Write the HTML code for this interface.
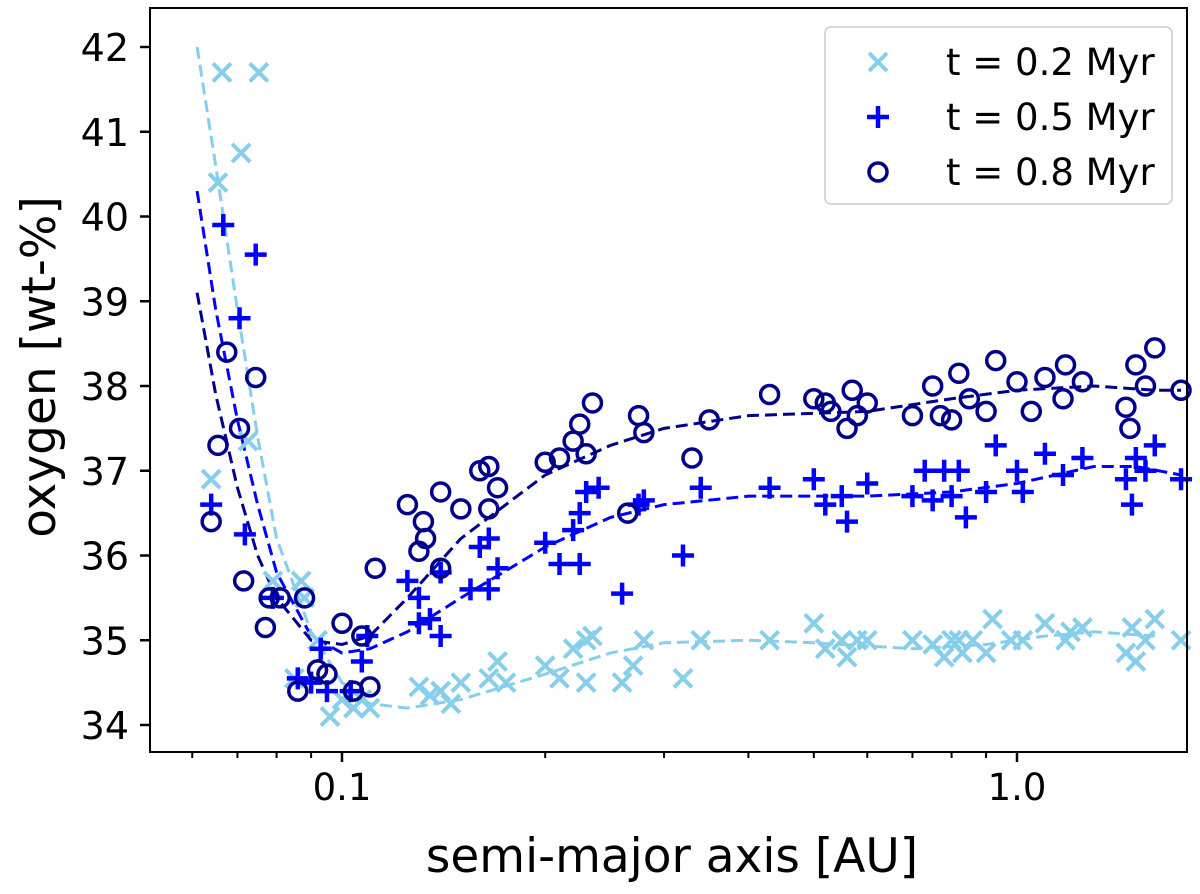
<!DOCTYPE html>
<html><head><meta charset="utf-8"><style>
body{margin:0;background:#fff;}
svg text{font-family:"DejaVu Sans","Liberation Sans",sans-serif;fill:#000;}
</style></head><body>
<svg id="chart" width="1200" height="889" xmlns="http://www.w3.org/2000/svg">
<rect x="0" y="0" width="1200" height="889" fill="#fff"/>
<g id="plot"></g>
<g id="axes"></g>
</svg>
<script>
const yTicks=[34,35,36,37,38,39,40,41,42];
const xTickVals=[0.1,1.0];
const xTickLabels=["0.1","1.0"];
const xMinor=[0.06,0.07,0.08,0.09,0.2,0.3,0.4,0.5,0.6,0.7,0.8,0.9];
const seriesNames=["t = 0.2 Myr","t = 0.5 Myr","t = 0.8 Myr"];
const ptsA=[[0.064,36.9],[0.0655,40.4],[0.0664,41.7],[0.0709,40.75],[0.0753,41.7],[0.0726,37.35],[0.079,35.7],[0.087,35.7],[0.088,35.5],[0.085,34.55],[0.092,35.0],[0.096,34.1],[0.1,34.3],[0.104,34.2],[0.11,34.2],[0.107,34.3],[0.13,34.45],[0.135,34.35],[0.14,34.4],[0.145,34.25],[0.15,34.5],[0.165,34.55],[0.17,34.75],[0.175,34.5],[0.2,34.7],[0.21,34.55],[0.22,34.9],[0.23,35.0],[0.235,35.05],[0.23,34.5],[0.26,34.5],[0.27,34.7],[0.28,35.0],[0.32,34.55],[0.34,35.0],[0.43,35.0],[0.5,35.2],[0.52,34.9],[0.55,35.0],[0.56,34.8],[0.58,35.0],[0.6,35.0],[0.7,35.0],[0.75,34.95],[0.78,34.8],[0.8,35.0],[0.82,35.0],[0.83,34.85],[0.86,35.0],[0.9,34.85],[0.92,35.25],[0.98,35.0],[1.02,35.0],[1.1,35.2],[1.18,35.0],[1.2,35.1],[1.25,35.15],[1.45,34.85],[1.48,35.15],[1.5,34.75],[1.55,35.0],[1.6,35.25],[1.75,35.0]];
const ptsB=[[0.064,36.6],[0.0667,39.9],[0.0705,38.8],[0.0718,36.25],[0.0745,39.55],[0.079,35.5],[0.086,34.55],[0.09,34.5],[0.093,34.9],[0.095,34.4],[0.103,34.4],[0.107,34.75],[0.109,35.05],[0.125,35.7],[0.13,35.5],[0.13,35.2],[0.135,35.25],[0.14,35.05],[0.14,35.8],[0.155,35.6],[0.16,36.1],[0.165,35.6],[0.165,36.2],[0.17,35.85],[0.2,36.15],[0.21,35.9],[0.22,36.3],[0.225,36.5],[0.225,35.9],[0.23,36.75],[0.24,36.8],[0.26,35.55],[0.275,36.6],[0.28,36.65],[0.32,36.0],[0.34,36.8],[0.43,36.8],[0.5,36.9],[0.52,36.6],[0.55,36.7],[0.56,36.4],[0.6,36.85],[0.7,36.7],[0.73,37.0],[0.75,36.65],[0.78,37.0],[0.8,36.7],[0.82,37.0],[0.84,36.45],[0.9,36.75],[0.93,37.3],[1.0,37.0],[1.02,36.75],[1.1,37.2],[1.17,36.95],[1.25,37.15],[1.45,36.9],[1.48,36.6],[1.5,37.15],[1.55,37.0],[1.6,37.3],[1.75,36.9]];
const ptsC=[[0.064,36.4],[0.0655,37.3],[0.0675,38.4],[0.0705,37.5],[0.0715,35.7],[0.0745,38.1],[0.077,35.15],[0.078,35.5],[0.081,35.5],[0.086,34.4],[0.088,35.5],[0.092,34.65],[0.095,34.6],[0.1,35.2],[0.104,34.4],[0.107,35.05],[0.11,34.45],[0.112,35.85],[0.125,36.6],[0.13,36.05],[0.132,36.4],[0.133,36.2],[0.14,35.85],[0.14,36.75],[0.15,36.55],[0.16,37.0],[0.165,37.05],[0.17,36.8],[0.165,36.55],[0.2,37.1],[0.21,37.15],[0.22,37.35],[0.225,37.55],[0.23,37.2],[0.235,37.8],[0.265,36.5],[0.275,37.65],[0.28,37.45],[0.33,37.15],[0.35,37.6],[0.43,37.9],[0.5,37.85],[0.52,37.8],[0.53,37.7],[0.56,37.5],[0.57,37.95],[0.58,37.65],[0.6,37.8],[0.7,37.65],[0.75,38.0],[0.77,37.65],[0.8,37.6],[0.82,38.15],[0.85,37.85],[0.9,37.7],[0.93,38.3],[1.0,38.05],[1.05,37.7],[1.1,38.1],[1.17,37.85],[1.18,38.25],[1.25,38.05],[1.45,37.75],[1.47,37.5],[1.5,38.25],[1.55,38.0],[1.6,38.45],[1.75,37.95]];
const fitA=[[0.061,42.0],[0.065,40.6],[0.07,38.9],[0.075,37.4],[0.08,36.2],[0.09,35.1],[0.1,34.5],[0.11,34.25],[0.125,34.2],[0.15,34.3],[0.2,34.6],[0.25,34.85],[0.3,34.97],[0.4,35.0],[0.5,34.97],[0.7,34.9],[0.9,34.95],[1.1,35.05],[1.3,35.1],[1.6,35.05]];
const fitB=[[0.061,40.3],[0.065,38.9],[0.07,37.6],[0.075,36.6],[0.08,35.8],[0.09,35.05],[0.1,34.85],[0.11,34.9],[0.125,35.1],[0.15,35.5],[0.2,36.1],[0.25,36.45],[0.3,36.6],[0.4,36.7],[0.6,36.7],[0.8,36.75],[1.0,36.85],[1.3,37.05],[1.5,37.05],[1.75,36.95]];
const fitC=[[0.061,39.1],[0.065,37.9],[0.07,36.8],[0.075,36.0],[0.08,35.5],[0.09,35.0],[0.1,34.95],[0.11,35.05],[0.125,35.5],[0.15,36.2],[0.2,36.95],[0.25,37.3],[0.3,37.5],[0.4,37.65],[0.6,37.7],[0.8,37.85],[1.0,37.95],[1.3,38.0],[1.6,37.95],[1.75,37.95]];

const NS="http://www.w3.org/2000/svg";
const L=150,R=1187,T=8,B=752;
function xs(v){return 342+675*(Math.log10(v)+1);}
function ys(v){return 725-(v-34)*84.75;}
function mk(tag,attrs,parent){const e=document.createElementNS(NS,tag);for(const k in attrs)e.setAttribute(k,attrs[k]);parent.appendChild(e);return e;}
const plot=document.getElementById('plot'),axes=document.getElementById('axes');
const colors=["#87ceeb","#0000ff","#00008b"];
function marker(kind,cx,cy,col,parent,name){
  let g=mk('g',{},parent);
  
  
  if(kind===0){const s=9;mk('path',{d:`M${cx-s},${cy-s}L${cx+s},${cy+s}M${cx-s},${cy+s}L${cx+s},${cy-s}`,stroke:col,'stroke-width':4,fill:'none'},g);}
  else if(kind===1){const s=11;mk('path',{d:`M${cx-s},${cy}L${cx+s},${cy}M${cx},${cy-s}L${cx},${cy+s}`,stroke:col,'stroke-width':4.5,fill:'none'},g);}
  else {mk('circle',{cx:cx,cy:cy,r:9,stroke:col,'stroke-width':3.5,fill:'none'},g);}
}
[fitA,fitB,fitC].forEach((f,i)=>{
  const p=mk('polyline',{points:f.map(d=>xs(d[0])+','+ys(d[1])).join(' '),fill:'none',stroke:colors[i],'stroke-width':3,'stroke-dasharray':'12,6'},plot);
  
  
});
[ptsA,ptsB,ptsC].forEach((s,i)=>{
  s.forEach(d=>marker(i,xs(d[0]),ys(d[1]),colors[i],plot,'point-series-'+(i+1)));
});
const frame=mk('rect',{x:L,y:T,width:R-L,height:B-T,fill:'none',stroke:'#000','stroke-width':2},axes);


yTicks.forEach(v=>{
  mk('line',{x1:L-10,x2:L,y1:ys(v),y2:ys(v),stroke:'#000','stroke-width':2.5},axes);
  const t=mk('text',{x:L-21,y:ys(v)+14,'text-anchor':'end','font-size':38},axes);t.textContent=v;
  
  
});
xTickVals.forEach((v,i)=>{
  mk('line',{x1:xs(v),x2:xs(v),y1:B,y2:B+10,stroke:'#000','stroke-width':2.5},axes);
  const t=mk('text',{x:xs(v),y:B+48,'text-anchor':'middle','font-size':37},axes);t.textContent=xTickLabels[i];
  
  
});
xMinor.forEach(v=>mk('line',{x1:xs(v),x2:xs(v),y1:B,y2:B+6,stroke:'#000','stroke-width':2},axes));
const xt=mk('text',{x:672,y:872,'text-anchor':'middle','font-size':47},axes);xt.textContent='semi-major axis [AU]';


const yt=mk('text',{x:0,y:0,'text-anchor':'middle','font-size':47,transform:'translate(55,367) rotate(-90)'},axes);yt.textContent='oxygen [wt-%]';


const leg=mk('g',{},axes);


mk('rect',{x:825,y:27,width:347,height:177,rx:6,fill:'#fff','fill-opacity':0.8,stroke:'#ccc','stroke-width':1.5},leg);
seriesNames.forEach((n,i)=>{
  const y=62+55*i;
  marker(i,878,y,colors[i],leg,'legend-marker-'+(i+1));
  const t=mk('text',{x:946,y:y+13,'font-size':37},leg);t.textContent=n;
  
  
});
</script>
</body></html>
